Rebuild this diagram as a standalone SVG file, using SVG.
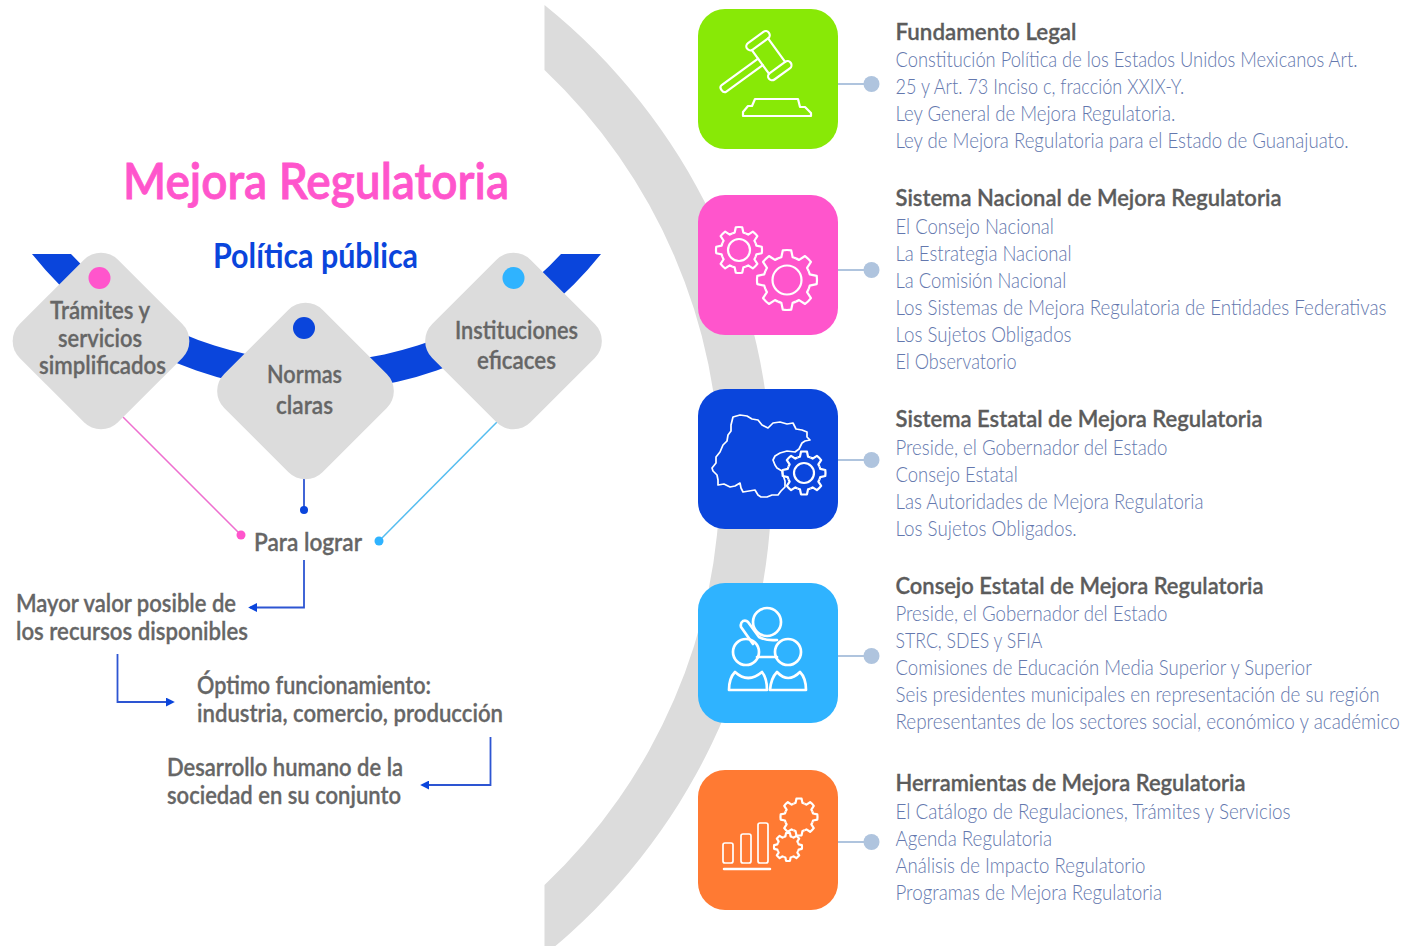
<svg xmlns="http://www.w3.org/2000/svg" xmlns:xlink="http://www.w3.org/1999/xlink" width="1418" height="946" viewBox="0 0 1418 946">
<style>
text{font-family:"Lato","Liberation Sans",sans-serif}
.h{font-size:23px;font-weight:600;fill:#5c5c5c;stroke:#5c5c5c;stroke-width:.3}
.b{font-size:21px;font-weight:300;fill:#6478ae;transform:scaleX(.88);transform-origin:895.5px 0}
.l{font-size:24px;font-weight:600;fill:#666;stroke:#666;stroke-width:.3}
.c{text-anchor:middle}
.ic{fill:none;stroke:#fff;stroke-width:2.2;stroke-linejoin:round;stroke-linecap:round}
.th{stroke-width:1.7}
.tk{stroke-width:2.7}
.ln{fill:none;stroke:#afc4de;stroke-width:2}
.ar{fill:none;stroke:#2d55d2;stroke-width:1.8}
.gp{fill:none;stroke:#fff;stroke-width:2.2;vector-effect:non-scaling-stroke;stroke-linejoin:round}
</style>
<defs>
<path id="t" class="gp" d="M72.06,-29.85A78,78 0 0 1 75.68,-18.87L99.03,-13.92A100,100 0 0 1 99.03,13.92L75.68,18.87A78,78 0 0 1 72.06,29.85"/>
<g id="gear">
<use xlink:href="#t"/><use xlink:href="#t" transform="rotate(45)"/><use xlink:href="#t" transform="rotate(90)"/><use xlink:href="#t" transform="rotate(135)"/><use xlink:href="#t" transform="rotate(180)"/><use xlink:href="#t" transform="rotate(225)"/><use xlink:href="#t" transform="rotate(270)"/><use xlink:href="#t" transform="rotate(315)"/>
</g>
<marker id="ah" viewBox="0 0 10 10" refX="8" refY="5" markerWidth="9" markerHeight="9" markerUnits="userSpaceOnUse" orient="auto"><path d="M0,0L10,5L0,10z" fill="#0a45dc"/></marker>
</defs>

<path id="arc-gris" d="M544.500,5A610,610 0 0 1 544.500,955L544.500,885A561,561 0 0 0 544.500,70z" fill="#dcdcdc"/>
<path id="arco-azul" d="M32,254A364,364 0 0 0 601,254L561,254A333,333 0 0 1 71,254z" fill="#0a45dc"/>

<g id="titulo">
<text x="123" y="199" font-size="50" font-weight="600" fill="#ff55cc" stroke="#ff55cc" stroke-width=".8" textLength="386" lengthAdjust="spacingAndGlyphs">Mejora Regulatoria</text>
<text x="213" y="268" font-size="34" font-weight="700" fill="#0a45dc" textLength="205" lengthAdjust="spacingAndGlyphs">Política pública</text>
</g>

<g id="connectors">
<path d="M123,417L241,535" fill="none" stroke="#ee6fcf" stroke-width="1.5"/>
<circle cx="241" cy="535" r="4.5" fill="#ff55cc"/>
<path d="M304,478V510" fill="none" stroke="#2d55d2" stroke-width="1.8"/>
<circle cx="304" cy="510" r="4" fill="#0a45dc"/>
<path d="M497,422L379,541" fill="none" stroke="#55bdf0" stroke-width="1.5"/>
<circle cx="379" cy="541" r="4.5" fill="#2fb3ff"/>
<path class="ar" d="M304,560V607.500H250" marker-end="url(#ah)"/>
<path class="ar" d="M117.500,654V702H173" marker-end="url(#ah)"/>
<path class="ar" d="M490.500,737V785H422" marker-end="url(#ah)"/>
<path class="ln" d="M838,84H872M838,270H872M838,460H872M838,656H872M838,842H872"/>
<g fill="#afc4de"><circle cx="871.500" cy="84" r="8"/><circle cx="871.500" cy="270" r="8"/><circle cx="871.500" cy="460" r="8"/><circle cx="871.500" cy="656" r="8"/><circle cx="871.500" cy="842" r="8"/></g>
</g>

<g id="n-tramites">
<rect x="-69.500" y="-69.500" width="139" height="139" rx="24" transform="translate(101,341) rotate(45)" fill="#dcdcdc"/>
<circle cx="99.500" cy="278" r="11" fill="#ff55cc"/>
<text class="l c" x="100" y="318.500" textLength="100" lengthAdjust="spacingAndGlyphs">Trámites y</text>
<text class="l c" x="100" y="347" textLength="84" lengthAdjust="spacingAndGlyphs">servicios</text>
<text class="l c" x="102.500" y="374" textLength="127" lengthAdjust="spacingAndGlyphs">simplificados</text>
</g>
<g id="n-normas">
<rect x="-69.500" y="-69.500" width="139" height="139" rx="24" transform="translate(305.500,391) rotate(45)" fill="#dcdcdc"/>
<circle cx="304" cy="328" r="11" fill="#0a45dc"/>
<text class="l c" x="304.500" y="383" textLength="75" lengthAdjust="spacingAndGlyphs">Normas</text>
<text class="l c" x="304.500" y="414" textLength="57" lengthAdjust="spacingAndGlyphs">claras</text>
</g>
<g id="n-instituciones">
<rect x="-69.500" y="-69.500" width="139" height="139" rx="24" transform="translate(513.500,341) rotate(45)" fill="#dcdcdc"/>
<circle cx="513.500" cy="278" r="11" fill="#2fb3ff"/>
<text class="l c" x="516.500" y="339" textLength="123" lengthAdjust="spacingAndGlyphs">Instituciones</text>
<text class="l c" x="516.500" y="369" textLength="79" lengthAdjust="spacingAndGlyphs">eficaces</text>
</g>

<g id="n-logros">
<text class="l" x="254" y="551" textLength="108" lengthAdjust="spacingAndGlyphs">Para lograr</text>
<text class="l" x="16" y="612" textLength="220" lengthAdjust="spacingAndGlyphs">Mayor valor posible de</text>
<text class="l" x="16" y="640" textLength="232" lengthAdjust="spacingAndGlyphs">los recursos disponibles</text>
<text class="l" x="197" y="694" textLength="234" lengthAdjust="spacingAndGlyphs">Óptimo funcionamiento:</text>
<text class="l" x="197" y="722" textLength="306" lengthAdjust="spacingAndGlyphs">industria, comercio, producción</text>
<text class="l" x="167" y="776" textLength="236" lengthAdjust="spacingAndGlyphs">Desarrollo humano de la</text>
<text class="l" x="167" y="804" textLength="234" lengthAdjust="spacingAndGlyphs">sociedad en su conjunto</text>
</g>

<g id="n-legal">
<rect x="698" y="9" width="140" height="140" rx="27" fill="#88e906"/>
<g class="ic" transform="translate(768.500,56) rotate(-36)">
<rect x="-13" y="-22.500" width="27" height="8" rx="4"/>
<rect x="-13" y="14.500" width="27" height="8" rx="4"/>
<path d="M-10,-14.500V14.500M10,-14.500V14.500"/>
<path d="M-10,-4H-55Q-58,-4 -58,0Q-58,4 -55,4H-10"/>
</g>
<path class="ic" d="M743,116H811L811,113L805,107H800L798,99H755L752,106H748L743,112Z"/>
<text class="h" x="895.500" y="40" textLength="181" lengthAdjust="spacingAndGlyphs">Fundamento Legal</text>
<text class="b" x="895.500" y="67.500" textLength="525" lengthAdjust="spacingAndGlyphs">Constitución Política de los Estados Unidos Mexicanos Art.</text>
<text class="b" x="895.500" y="94.500" textLength="328" lengthAdjust="spacingAndGlyphs">25 y Art. 73 Inciso c, fracción XXIX-Y.</text>
<text class="b" x="895.500" y="121.500" textLength="318" lengthAdjust="spacingAndGlyphs">Ley General de Mejora Regulatoria.</text>
<text class="b" x="895.500" y="148.500" textLength="515" lengthAdjust="spacingAndGlyphs">Ley de Mejora Regulatoria para el Estado de Guanajuato.</text>
</g>

<g id="n-nacional">
<rect x="698" y="195" width="140" height="140" rx="27" fill="#ff55cc"/>
<use xlink:href="#gear" transform="translate(739,250) scale(.23)"/>
<circle class="ic" cx="739" cy="250" r="11"/>
<use xlink:href="#gear" transform="translate(787,280) scale(.3)"/>
<circle class="ic" cx="787" cy="280" r="14.500"/>
<text class="h" x="895.500" y="206" textLength="386" lengthAdjust="spacingAndGlyphs">Sistema Nacional de Mejora Regulatoria</text>
<text class="b" x="895.500" y="234" textLength="180" lengthAdjust="spacingAndGlyphs">El Consejo Nacional</text>
<text class="b" x="895.500" y="261" textLength="200" lengthAdjust="spacingAndGlyphs">La Estrategia Nacional</text>
<text class="b" x="895.500" y="288" textLength="194" lengthAdjust="spacingAndGlyphs">La Comisión Nacional</text>
<text class="b" x="895.500" y="315" textLength="558" lengthAdjust="spacingAndGlyphs">Los Sistemas de Mejora Regulatoria de Entidades Federativas</text>
<text class="b" x="895.500" y="342" textLength="200" lengthAdjust="spacingAndGlyphs">Los Sujetos Obligados</text>
<text class="b" x="895.500" y="369" textLength="137.500" lengthAdjust="spacingAndGlyphs">El Observatorio</text>
</g>

<g id="n-estatal">
<rect x="698" y="389" width="140" height="140" rx="27" fill="#0a45dc"/>
<path class="ic th" d="M733,417L740,415L747,416L752,419L758,420L762,425L768,428L773,423L780,422L787,424L793,423L796,429L802,430L807,432L807,437L810,440L805,441L802,443L799,449L795,452L787,451L780,453L775,456L773,460L775,465L777,468L782,471L783,475L785,481L785,487L781,491L778,495L772,495L767,497L761,497L758,495L755,490L749,491L743,492L741,488L740,483L735,486L730,487L724,484L718,485L718,480L717,475L713,471L712,468L716,463L716,457L720,452L723,445L727,441L728,435L731,431L731,425Z"/>
<use xlink:href="#gear" transform="translate(804,473) scale(.215)"/>
<circle class="ic" cx="804" cy="473" r="10"/>
<text class="h" x="895.500" y="427" textLength="367" lengthAdjust="spacingAndGlyphs">Sistema Estatal de Mejora Regulatoria</text>
<text class="b" x="895.500" y="455" textLength="309" lengthAdjust="spacingAndGlyphs">Preside, el Gobernador del Estado</text>
<text class="b" x="895.500" y="482" textLength="139" lengthAdjust="spacingAndGlyphs">Consejo Estatal</text>
<text class="b" x="895.500" y="509" textLength="350" lengthAdjust="spacingAndGlyphs">Las Autoridades de Mejora Regulatoria</text>
<text class="b" x="895.500" y="536" textLength="206" lengthAdjust="spacingAndGlyphs">Los Sujetos Obligados.</text>
</g>

<g id="n-consejo">
<rect x="698" y="583" width="140" height="140" rx="27" fill="#2fb3ff"/>
<g class="ic tk">
<circle cx="767" cy="622" r="14"/>
<circle cx="746" cy="652" r="13"/>
<circle cx="788" cy="652" r="13"/>
<path d="M757,657H777"/>
<path d="M753,644L741,627Q740,623 743,621Q746,620 748,622L759,637Q766,641 777,640"/>
<path d="M729,690Q729,678 735,672Q748,684 762,672Q767,678 767,690Z"/>
<path d="M770,690Q771,678 777,672Q788,684 800,672Q806,678 806,690Z"/>
</g>
<text class="h" x="895.500" y="594" textLength="368" lengthAdjust="spacingAndGlyphs">Consejo Estatal de Mejora Regulatoria</text>
<text class="b" x="895.500" y="621.500" textLength="309" lengthAdjust="spacingAndGlyphs">Preside, el Gobernador del Estado</text>
<text class="b" x="895.500" y="648.500" textLength="167" lengthAdjust="spacingAndGlyphs">STRC, SDES y SFIA</text>
<text class="b" x="895.500" y="675.500" textLength="473" lengthAdjust="spacingAndGlyphs">Comisiones de Educación Media Superior y Superior</text>
<text class="b" x="895.500" y="702.500" textLength="550" lengthAdjust="spacingAndGlyphs">Seis presidentes municipales en representación de su región</text>
<text class="b" x="895.500" y="729.500" textLength="573" lengthAdjust="spacingAndGlyphs">Representantes de los sectores social, económico y académico</text>
</g>

<g id="n-herramientas">
<rect x="698" y="770" width="140" height="140" rx="27" fill="#ff7a33"/>
<g class="ic th">
<rect x="723" y="843" width="10" height="20" rx="2"/>
<rect x="741" y="834" width="10" height="29" rx="2"/>
<rect x="758" y="823" width="10" height="40" rx="2"/>
<path d="M724,869H770" style="stroke-width:2.500"/>
</g>
<use xlink:href="#gear" transform="translate(788,847) scale(.14)"/>
<use xlink:href="#gear" transform="translate(799,817) scale(.185)"/>
<text class="h" x="895.500" y="791" textLength="350" lengthAdjust="spacingAndGlyphs">Herramientas de Mejora Regulatoria</text>
<text class="b" x="895.500" y="819" textLength="449" lengthAdjust="spacingAndGlyphs">El Catálogo de Regulaciones, Trámites y Servicios</text>
<text class="b" x="895.500" y="846" textLength="178" lengthAdjust="spacingAndGlyphs">Agenda Regulatoria</text>
<text class="b" x="895.500" y="873" textLength="284" lengthAdjust="spacingAndGlyphs">Análisis de Impacto Regulatorio</text>
<text class="b" x="895.500" y="900" textLength="303" lengthAdjust="spacingAndGlyphs">Programas de Mejora Regulatoria</text>
</g>
</svg>
